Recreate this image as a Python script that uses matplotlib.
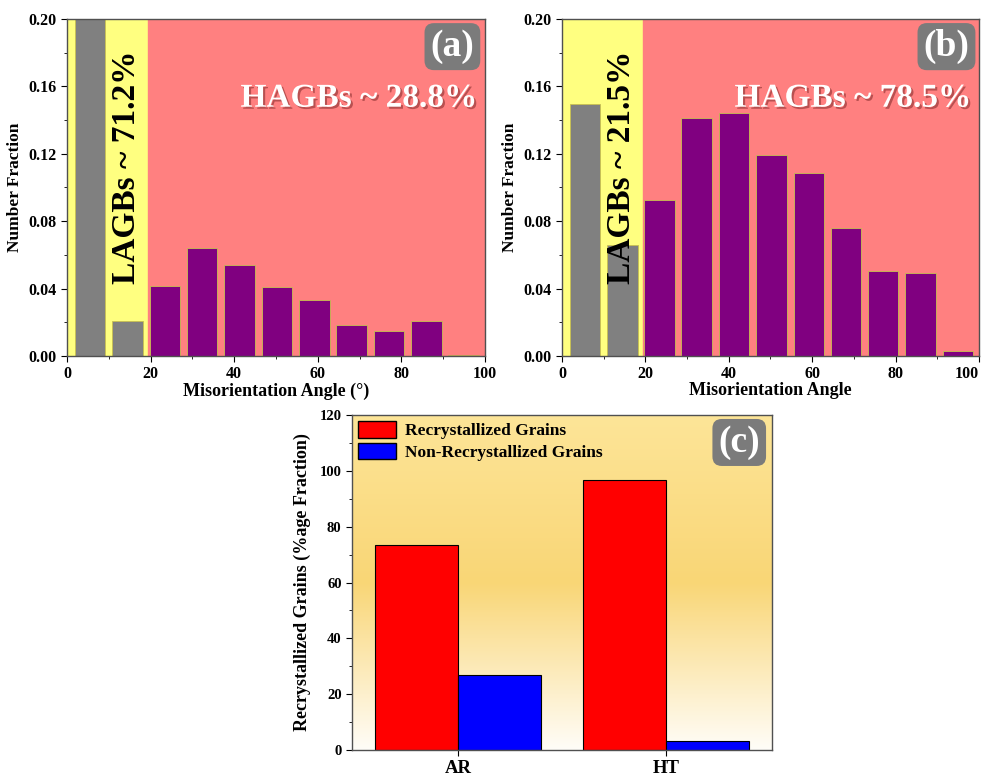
import numpy as np
import matplotlib
matplotlib.use('Agg')
import matplotlib.pyplot as plt
import matplotlib.patheffects as pe
from matplotlib.patches import Patch

plt.rcParams['font.family'] = ['Liberation Serif', 'DejaVu Serif']
plt.rcParams['font.weight'] = 'bold'

# histogram bins (misorientation angle, deg)
angle_bins = [5.5, 14.5, 23.4, 32.3, 41.3, 50.2, 59.2, 68.1, 77.0, 86.0, 94.9]
frac_ar = [0.690, 0.0206, 0.0416, 0.064, 0.0539, 0.041, 0.0335, 0.0186, 0.0147, 0.0206, 0.0008]
frac_ht = [0.1495, 0.0656, 0.0924, 0.1413, 0.1445, 0.1193, 0.1086, 0.0757, 0.0505, 0.049, 0.0028]
lagb_cut = 19.4

# panel c
samples = ['AR', 'HT']
recryst = [73.3, 96.7]
non_recryst = [26.7, 3.3]

fig = plt.figure(figsize=(9.87, 7.76), dpi=100)
W, H = 987, 776


def px_axes(l, t, r, b):
    return fig.add_axes([l / W, 1 - b / H, (r - l) / W, (b - t) / H])


def style_axes(ax, lsize):
    for s in ax.spines.values():
        s.set_color('#505050')
        s.set_linewidth(1.0)
    ax.tick_params(which='both', direction='out', top=False, right=False, labelsize=lsize)
    ax.tick_params(which='major', length=4)
    ax.tick_params(which='minor', length=2.5)
    for lab in ax.get_xticklabels() + ax.get_yticklabels():
        lab.set_fontweight('bold')


def panel_tag(ax, s):
    ax.text(0.922, 0.918, s, transform=ax.transAxes, ha='center', va='center',
            color='white', fontsize=27, fontweight='bold', zorder=10,
            bbox=dict(boxstyle='round,pad=0.16,rounding_size=0.25', fc='#7b7b7b', ec='none'))


def hist_panel(ax, frac, lagb_txt, hagb_txt, xlabel):
    ax.axvspan(0, lagb_cut, color='#FFFF80', zorder=0)
    ax.axvspan(lagb_cut, 100, color='#FF8080', zorder=0)
    cols = ['#808080' if a < lagb_cut else '#800080' for a in angle_bins]
    ax.bar(angle_bins, frac, width=7.3, color=cols, edgecolor='#c8c050', linewidth=0.6, zorder=2)
    ax.set_xlim(0, 100)
    ax.set_ylim(0, 0.20)
    ax.set_xticks(np.arange(0, 101, 20))
    ax.set_xticks(np.arange(10, 100, 20), minor=True)
    ax.set_yticks(np.arange(0, 0.201, 0.04))
    ax.set_yticks(np.arange(0.02, 0.2, 0.04), minor=True)
    ax.yaxis.set_major_formatter(plt.FormatStrFormatter('%.2f'))
    ax.set_ylabel('Number Fraction', fontsize=12.5, fontweight='bold', labelpad=4)
    ax.set_xlabel(xlabel, fontsize=13, fontweight='bold', labelpad=0)
    ax.text(14.3, 0.112, lagb_txt, rotation=90, ha='center', va='center',
            fontsize=24, fontweight='bold', color='black', zorder=5)
    ax.text(98.3, 0.153, hagb_txt, ha='right', va='center', fontsize=24,
            fontweight='bold', color='white', zorder=5,
            path_effects=[pe.withSimplePatchShadow(offset=(1.5, -1.5), shadow_rgbFace='#8a3030', alpha=0.6)])
    style_axes(ax, 11.5)


ax_a = px_axes(67, 19, 485, 356)
hist_panel(ax_a, frac_ar, 'LAGBs ~ 71.2%', 'HAGBs ~ 28.8%', 'Misorientation Angle (°)')
panel_tag(ax_a, '(a)')

ax_b = px_axes(562, 19, 979, 356)
hist_panel(ax_b, frac_ht, 'LAGBs ~ 21.5%', 'HAGBs ~ 78.5%', 'Misorientation Angle')
panel_tag(ax_b, '(b)')
# keep the last tick label inside the figure
ax_b.get_xticklabels()[-1].set_horizontalalignment('right')

# panel c
ax_c = px_axes(352, 415, 772, 750)
xlim = (-0.51, 1.51)
ylim = (0, 120)
# vertical gradient background
t = np.linspace(0, 1, 256)[:, None]
top = np.array([253, 229, 152]) / 255
mid = np.array([249, 214, 118]) / 255
bot = np.array([255, 253, 248]) / 255
grad = np.where(t < 0.5, top + (mid - top) * (t / 0.5), mid + (bot - mid) * ((t - 0.5) / 0.5))
grad = grad.reshape(256, 1, 3)
ax_c.imshow(grad, extent=[xlim[0], xlim[1], ylim[0], ylim[1]], aspect='auto', zorder=0, origin='upper')

x = np.arange(len(samples))
ax_c.bar(x, recryst, width=-0.4, align='edge', color='#FF0000', edgecolor='black', linewidth=0.8, zorder=2)
ax_c.bar(x, non_recryst, width=0.4, align='edge', color='#0000FF', edgecolor='black', linewidth=0.8, zorder=2)
ax_c.set_xlim(*xlim)
ax_c.set_ylim(*ylim)
ax_c.set_xticks(x)
ax_c.set_xticklabels(samples)
ax_c.set_yticks(np.arange(0, 121, 20))
ax_c.set_yticks(np.arange(10, 120, 20), minor=True)
ax_c.set_ylabel('Recrystallized Grains (%age Fraction)', fontsize=13, fontweight='bold', labelpad=6)
style_axes(ax_c, 10.5)
ax_c.tick_params(axis='x', labelsize=13.5)
handles = [Patch(fc='#FF0000', ec='black', lw=1, label='Recrystallized Grains'),
           Patch(fc='#0000FF', ec='black', lw=1, label='Non-Recrystallized Grains')]
ax_c.legend(handles=handles, loc='upper left', bbox_to_anchor=(0.0, 1.0), frameon=False,
            prop={'size': 12.5, 'weight': 'bold'}, handlelength=2.2, handleheight=1.1,
            borderpad=0.25, borderaxespad=0.1, labelspacing=0.2, handletextpad=0.5)
panel_tag(ax_c, '(c)')

fig.savefig('out.png', dpi=100)
